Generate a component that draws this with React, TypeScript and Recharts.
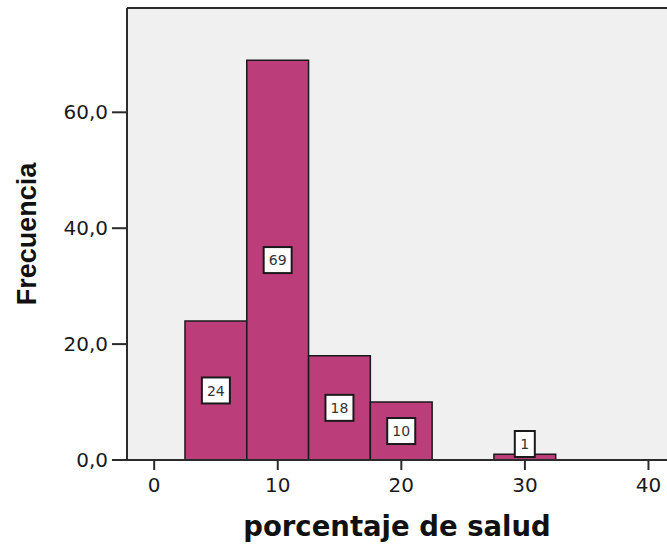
import React from 'react';
import { ComposedChart, Bar, XAxis, YAxis, CartesianGrid, ReferenceLine, LabelList, Rectangle } from 'recharts';

// histogram bins (centres) and their counts
const binCenters = [5, 10, 15, 20, 25, 30];
const counts = [24, 69, 18, 10, 0, 1];
const xTicks = [0, 10, 20, 30, 40];
const yTicks = [0, 20, 40, 60];

const BIN_WIDTH = 5;
const X_DOMAIN: [number, number] = [-2.2, 41.5];
const Y_MAX = 78;

const CHART_W = 667;
const CHART_H = 546;
const Y_AXIS_W = 127;
const X_AXIS_H = 86;
const TOP = 8;

const plotWidth = CHART_W - Y_AXIS_W;
const barPx = (BIN_WIDTH * plotWidth) / (X_DOMAIN[1] - X_DOMAIN[0]);

const data = binCenters.map((c, i) => ({ bin: c, count: counts[i] }));

// full-width bin (recharts leaves a gap otherwise)
const BinShape = (props: any) => {
  const { x, width, y, height } = props;
  if (!height) return null;
  const cx = x + width / 2;
  return (
    <Rectangle
      x={cx - barPx / 2}
      y={y}
      width={barPx}
      height={height}
      fill="#bb3d7a"
      stroke="#1a1a1a"
      strokeWidth={1.5}
    />
  );
};

const BoxLabel = (props: any) => {
  const { x, y, width, height, value } = props;
  if (!value) return null;
  const cx = x + width / 2;
  let cy = y + height / 2;
  if (height < 30) cy = y + height - 16;
  const txt = String(value);
  const w = txt.length * 8 + 12;
  const h = 26;
  return (
    <g>
      <rect x={cx - w / 2} y={cy - h / 2} width={w} height={h} fill="#ffffff" stroke="#1a1a1a" strokeWidth={2} />
      <text x={cx} y={cy} dy="0.36em" textAnchor="middle" fontSize={14} fontFamily="DejaVu Sans" fill="#333">
        {txt}
      </text>
    </g>
  );
};

const fmtY = (v: number) => v.toFixed(1).replace('.', ',');

export default function App() {
  return (
    <div style={{ position: 'absolute', left: 0, top: 0, width: CHART_W, height: CHART_H, background: '#fff' }}>
      <ComposedChart
        width={CHART_W}
        height={CHART_H}
        data={data}
        margin={{ top: TOP, right: 0, bottom: 0, left: 0 }}
        barCategoryGap={0}
        barGap={0}
      >
        <CartesianGrid fill="#f0f0f0" horizontal={false} vertical={false} />
        <XAxis
          dataKey="bin"
          type="number"
          domain={X_DOMAIN}
          ticks={xTicks}
          allowDataOverflow
          height={X_AXIS_H}
          tickSize={10}
          tickMargin={8}
          axisLine={{ stroke: '#2b2b2b', strokeWidth: 2 }}
          tickLine={{ stroke: '#2b2b2b', strokeWidth: 2 }}
          tick={{ fill: '#1a1a1a', fontSize: 20, fontFamily: 'DejaVu Sans' }}
          label={{
            value: 'porcentaje de salud',
            position: 'insideBottom',
            offset: 10,
            fill: '#111',
            fontSize: 27.5,
            fontWeight: 'bold',
            fontFamily: 'DejaVu Sans',
          }}
        />
        <YAxis
          type="number"
          domain={[0, Y_MAX]}
          ticks={yTicks}
          allowDataOverflow
          width={Y_AXIS_W}
          tickSize={15}
          tickMargin={4}
          tickFormatter={fmtY}
          axisLine={{ stroke: '#2b2b2b', strokeWidth: 2 }}
          tickLine={{ stroke: '#2b2b2b', strokeWidth: 2 }}
          tick={{ fill: '#1a1a1a', fontSize: 20, fontFamily: 'DejaVu Sans' }}
          label={{
            value: 'Frecuencia',
            angle: -90,
            position: 'insideLeft',
            offset: 26,
            fill: '#111',
            fontSize: 27,
            fontWeight: 'bold',
            fontFamily: 'Liberation Sans',
            style: { textAnchor: 'middle' },
          }}
        />
        <ReferenceLine y={Y_MAX} stroke="#2b2b2b" strokeWidth={2} />
        <Bar
          dataKey="count"
          fill="#bb3d7a"
          stroke="#1a1a1a"
          strokeWidth={1.5}
          barSize={barPx}
          shape={BinShape}
          isAnimationActive={false}
        >
          <LabelList dataKey="count" content={BoxLabel} />
        </Bar>
      </ComposedChart>
    </div>
  );
}
